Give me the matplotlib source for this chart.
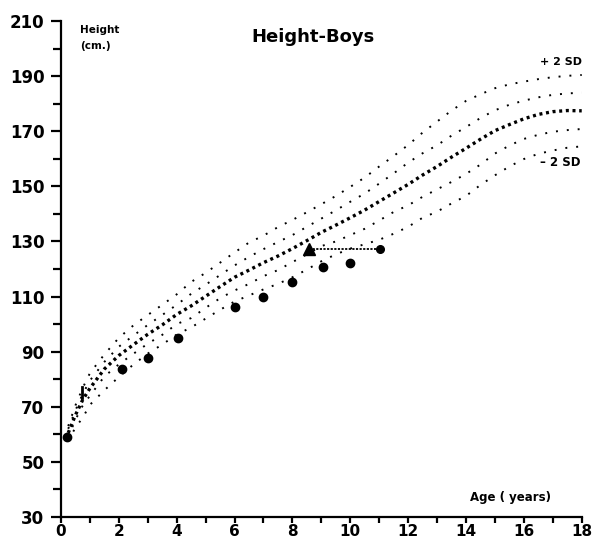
import numpy as np
import matplotlib
matplotlib.use('Agg')
import matplotlib.pyplot as plt

# reference curves (cm)
ages = [0.25, 0.5, 0.75, 1.0, 1.5, 2.0, 2.5, 3.0, 3.5, 4.0, 4.5, 5.0, 5.5, 6.0, 6.5,
        7.0, 7.5, 8.0, 8.5, 9.0, 9.5, 10.0, 10.5, 11.0, 11.5, 12.0, 12.5, 13.0, 13.5,
        14.0, 14.5, 15.0, 15.5, 16.0, 16.5, 17.0, 17.5, 18.0]
median = [60.5, 67.0, 72.5, 76.7, 83.7, 88.6, 92.5, 96.3, 99.7, 103.5, 106.6, 110.1, 113.6,
          117.0, 119.6, 122.3, 124.7, 127.4, 130.3, 133.3, 135.9, 138.6, 141.4, 144.5, 147.6,
          150.7, 154.1, 157.2, 160.6, 163.8, 167.1, 170.2, 172.4, 174.5, 176.1, 177.1, 177.5, 177.4]
plus_1sd = [62.0, 68.7, 74.6, 79.5, 86.3, 91.8, 95.8, 99.7, 103.3, 107.0, 111.0, 114.3, 117.8,
            121.3, 124.4, 127.2, 129.8, 132.3, 135.3, 138.3, 141.3, 144.4, 147.4, 151.0, 154.7,
            158.6, 162.0, 164.9, 168.4, 171.5, 174.8, 177.6, 179.6, 181.1, 182.3, 183.2, 183.7, 184.0]
plus_2sd = [63.0, 70.5, 76.8, 82.2, 89.0, 95.0, 99.5, 103.3, 107.0, 110.8, 115.3, 118.6, 122.3,
            126.0, 129.6, 132.1, 135.2, 137.8, 140.6, 143.5, 146.5, 149.8, 153.2, 157.2, 161.0,
            165.0, 169.5, 173.5, 177.5, 181.0, 183.4, 185.6, 187.0, 188.0, 188.9, 189.6, 190.1, 190.4]
minus_1sd = [59.0, 65.3, 70.4, 74.0, 81.0, 85.4, 89.2, 92.9, 96.1, 100.0, 102.2, 105.9, 109.4,
             112.2, 114.6, 117.4, 119.6, 122.5, 125.3, 128.3, 130.0, 132.3, 134.6, 137.6, 140.7,
             143.1, 146.2, 148.9, 151.6, 154.5, 157.9, 161.9, 164.8, 167.2, 168.7, 169.8, 170.4, 170.8]
minus_2sd = [57.5, 62.5, 66.0, 70.7, 76.0, 80.8, 85.3, 89.3, 92.6, 96.2, 98.8, 102.0, 105.2,
             108.2, 110.4, 112.6, 114.6, 117.0, 119.8, 122.8, 125.3, 127.4, 129.0, 130.6, 132.8,
             135.3, 138.6, 140.8, 143.8, 146.5, 150.5, 154.0, 157.2, 159.9, 161.8, 163.0, 164.0, 164.5]

# patient measurements
patient_age = [0.22, 2.1, 3.0, 4.05, 6.0, 7.0, 8.0, 9.05, 10.0]
patient_height = [58.9, 83.7, 87.6, 94.8, 106.3, 109.9, 115.3, 120.6, 122.3]
early_mark_age = [0.74, 0.74]
early_mark_height = [73.2, 77.0]

# bone age vs chronological age at last visit
bone_age = 8.58
chrono_age = 11.04
bone_height = 127.1

fig = plt.figure(figsize=(5.95, 5.41), dpi=100)
ax = fig.add_axes([0.1025, 0.0444, 0.8752, 0.9168])

sd_style = dict(color='black', lw=1.4, linestyle=(0, (1, 4.6)), dash_capstyle='butt')
ax.plot(ages, plus_2sd, **sd_style)
ax.plot(ages, plus_1sd, **sd_style)
ax.plot(ages, minus_1sd, **sd_style)
ax.plot(ages, minus_2sd, **sd_style)
ax.plot(ages, median, color='black', lw=2.4, linestyle=(0, (0.9, 1.1)), dash_capstyle='butt')

ax.plot(patient_age, patient_height, 'o', color='black', markersize=6, linestyle='none')
ax.plot(early_mark_age, early_mark_height, color='black', lw=2)

ax.plot([bone_age, chrono_age], [bone_height, bone_height], color='black', lw=1.3,
        linestyle=(0, (1.2, 0.8)))
ax.plot([bone_age], [bone_height], marker='^', color='black', markersize=8)
ax.plot([chrono_age], [bone_height], 'o', color='black', markersize=5.5)

ax.set_xlim(0, 18)
ax.set_ylim(30, 210)
for side in ['top', 'right']:
    ax.spines[side].set_visible(False)
for side in ['left', 'bottom']:
    ax.spines[side].set_linewidth(1.6)

ax.set_xticks(range(0, 19, 2))
ax.set_xticks(range(1, 18, 2), minor=True)
ax.set_yticks(range(30, 211, 20))
ax.set_yticks(range(40, 201, 20), minor=True)
ax.tick_params(axis='both', which='both', direction='out', width=1.6, color='black')
ax.tick_params(axis='y', which='major', length=7, pad=5, labelsize=12)
ax.tick_params(axis='y', which='minor', length=6)
ax.tick_params(axis='x', which='major', length=4, pad=1, labelsize=11)
ax.tick_params(axis='x', which='minor', length=4)
for label in ax.get_xticklabels() + ax.get_yticklabels():
    label.set_fontweight('heavy')

ax.text(313 / 595, 1 - 37 / 541, 'Height-Boys', transform=fig.transFigure, ha='center',
        va='center', fontsize=13, fontweight='bold')
ax.text(80 / 595, 1 - 30 / 541, 'Height', transform=fig.transFigure, ha='left', va='center',
        fontsize=7.5, fontweight='heavy')
ax.text(80 / 595, 1 - 46 / 541, '(cm.)', transform=fig.transFigure, ha='left', va='center',
        fontsize=7.5, fontweight='heavy')
ax.text(470 / 595, 1 - 497 / 541, 'Age ( years)', transform=fig.transFigure, ha='left',
        va='center', fontsize=8.5, fontweight='heavy')
ax.text(582 / 595, 1 - 62 / 541, '+ 2 SD', transform=fig.transFigure, ha='right', va='center',
        fontsize=8, fontweight='heavy')
ax.text(580 / 595, 1 - 163 / 541, '\u2013 2 SD', transform=fig.transFigure, ha='right',
        va='center', fontsize=8.5, fontweight='heavy')

fig.savefig('out.png', dpi=100)
